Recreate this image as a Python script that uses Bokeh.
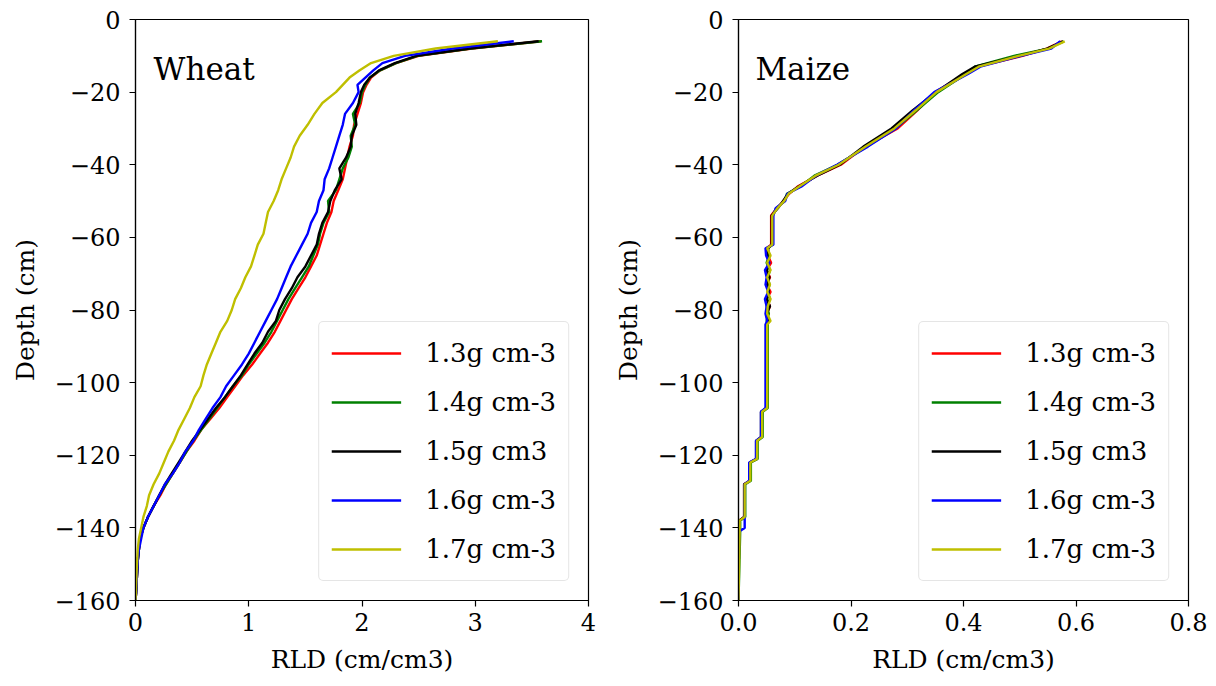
from bokeh.plotting import figure
from bokeh.layouts import row
from bokeh.models import Range1d, Label, FixedTicker, CustomJSTickFormatter
from bokeh.embed import file_html
from bokeh.resources import INLINE

FONT = "DejaVu Serif"

# ---------------- data ----------------
series_labels = ["1.3g cm-3", "1.4g cm-3", "1.5g cm3", "1.6g cm-3", "1.7g cm-3"]
series_colors = ["#ff0000", "#008000", "#000000", "#0000ff", "#bfbf00"]

depth_ticks = [0, -20, -40, -60, -80, -100, -120, -140, -160]
wheat_x_ticks = [0, 1, 2, 3, 4]
maize_x_ticks = [0.0, 0.2, 0.4, 0.6, 0.8]

wheat_depth = [-6, -8, -10, -12, -14, -16, -18, -20,
               -23, -26, -29, -32, -35, -38, -41, -44, -47, -50, -53, -56, -59,
               -62, -65, -68, -71, -74, -77, -80, -83, -86, -89, -92, -95, -98,
               -101, -104, -107, -110, -113, -116, -119, -122, -125, -128, -131,
               -134, -137, -140, -143, -146, -149, -152, -155, -158, -160]

wheat_13 = [3.58, 2.97, 2.50, 2.30, 2.16, 2.08, 2.04, 2.01,
            1.99, 1.96, 1.93, 1.92, 1.89, 1.87, 1.85, 1.83, 1.79, 1.75, 1.73, 1.69, 1.66,
            1.63, 1.60, 1.55, 1.50, 1.44, 1.38, 1.33, 1.28, 1.23, 1.17, 1.10, 1.03, 0.95,
            0.88, 0.81, 0.74, 0.66, 0.58, 0.52, 0.45, 0.39, 0.33, 0.27, 0.22,
            0.16, 0.11, 0.07, 0.04, 0.03, 0.02, 0.015, 0.01, 0.005, 0.0]
wheat_14 = [3.59, 2.96, 2.49, 2.30, 2.16, 2.07, 2.03, 2.00,
            1.98, 1.92, 1.94, 1.90, 1.91, 1.88, 1.83, 1.80, 1.77, 1.70, 1.71, 1.66, 1.63,
            1.61, 1.57, 1.53, 1.47, 1.41, 1.35, 1.30, 1.25, 1.20, 1.14, 1.07, 1.00, 0.94,
            0.86, 0.79, 0.72, 0.65, 0.58, 0.51, 0.45, 0.39, 0.33, 0.27, 0.21,
            0.16, 0.11, 0.07, 0.04, 0.03, 0.02, 0.015, 0.01, 0.005, 0.0]
wheat_15 = [3.56, 2.95, 2.48, 2.29, 2.15, 2.07, 2.02, 1.99,
            1.97, 1.94, 1.95, 1.91, 1.90, 1.86, 1.80, 1.82, 1.76, 1.72, 1.70, 1.65, 1.62,
            1.60, 1.55, 1.50, 1.43, 1.38, 1.32, 1.27, 1.24, 1.17, 1.12, 1.05, 0.99, 0.93,
            0.86, 0.79, 0.71, 0.64, 0.57, 0.50, 0.44, 0.38, 0.32, 0.26, 0.21,
            0.16, 0.11, 0.07, 0.04, 0.03, 0.02, 0.015, 0.01, 0.005, 0.0]
wheat_16 = [3.34, 2.80, 2.38, 2.18, 2.10, 2.03, 1.96, 1.97,
            1.92, 1.85, 1.83, 1.80, 1.77, 1.74, 1.71, 1.67, 1.66, 1.62, 1.60, 1.55, 1.52,
            1.47, 1.42, 1.37, 1.33, 1.29, 1.25, 1.20, 1.15, 1.10, 1.05, 1.00, 0.94, 0.87,
            0.80, 0.75, 0.68, 0.62, 0.56, 0.51, 0.44, 0.39, 0.33, 0.26, 0.21,
            0.16, 0.11, 0.07, 0.05, 0.03, 0.02, 0.015, 0.01, 0.005, 0.0]
wheat_17 = [3.20, 2.65, 2.28, 2.08, 1.98, 1.89, 1.83, 1.77,
            1.65, 1.58, 1.52, 1.45, 1.40, 1.37, 1.33, 1.29, 1.26, 1.22, 1.17, 1.15, 1.13,
            1.08, 1.05, 1.02, 0.97, 0.93, 0.88, 0.85, 0.81, 0.75, 0.71, 0.67, 0.63, 0.60,
            0.575, 0.52, 0.48, 0.43, 0.38, 0.34, 0.29, 0.25, 0.21, 0.16, 0.12,
            0.10, 0.07, 0.05, 0.03, 0.02, 0.015, 0.01, 0.007, 0.003, 0.0]

maize_depth = [-6, -8, -10, -13, -15, -20, -25, -30, -35, -40,
               -43, -46, -48, -50, -52, -54, -62, -63,
               -65, -67, -69, -71, -73, -75, -77, -79, -81, -83, -84,
               -107, -108, -115, -116, -121, -122, -127, -128,
               -137, -138, -140, -141, -160]

maize_13 = [0.575, 0.548, 0.505, 0.425, 0.402, 0.350, 0.318, 0.283, 0.225, 0.182,
            0.140, 0.105, 0.090, 0.080, 0.068, 0.058, 0.058, 0.050,
            0.052, 0.058, 0.050, 0.056, 0.050, 0.057, 0.050, 0.056, 0.050, 0.055, 0.050,
            0.050, 0.041, 0.041, 0.032, 0.032, 0.020, 0.020, 0.010,
            0.010, 0.001, 0.001, 0.001, 0.0]
maize_14 = [0.578, 0.550, 0.490, 0.420, 0.404, 0.355, 0.317, 0.279, 0.228, 0.176,
            0.135, 0.110, 0.086, 0.082, 0.067, 0.061, 0.061, 0.052,
            0.055, 0.050, 0.056, 0.052, 0.055, 0.052, 0.056, 0.050, 0.054, 0.050, 0.052,
            0.052, 0.043, 0.043, 0.034, 0.034, 0.022, 0.022, 0.012,
            0.012, 0.003, 0.003, 0.003, 0.0]
maize_15 = [0.577, 0.549, 0.500, 0.420, 0.398, 0.351, 0.310, 0.272, 0.222, 0.180,
            0.140, 0.107, 0.088, 0.079, 0.070, 0.059, 0.059, 0.053,
            0.051, 0.054, 0.050, 0.055, 0.051, 0.054, 0.050, 0.056, 0.050, 0.053, 0.050,
            0.050, 0.040, 0.040, 0.032, 0.032, 0.020, 0.020, 0.010,
            0.010, 0.001, 0.001, 0.001, 0.0]
maize_16 = [0.572, 0.556, 0.502, 0.430, 0.408, 0.348, 0.312, 0.280, 0.230, 0.175,
            0.138, 0.112, 0.087, 0.083, 0.066, 0.062, 0.062, 0.048,
            0.049, 0.055, 0.047, 0.050, 0.048, 0.053, 0.047, 0.050, 0.048, 0.051, 0.048,
            0.048, 0.040, 0.040, 0.031, 0.031, 0.019, 0.019, 0.011,
            0.011, 0.011, 0.011, 0.001, 0.0]
maize_17 = [0.580, 0.552, 0.498, 0.427, 0.405, 0.352, 0.315, 0.277, 0.226, 0.178,
            0.137, 0.108, 0.089, 0.081, 0.069, 0.060, 0.060, 0.051,
            0.057, 0.051, 0.057, 0.051, 0.056, 0.051, 0.057, 0.052, 0.051, 0.057, 0.051,
            0.051, 0.042, 0.042, 0.033, 0.033, 0.021, 0.021, 0.011,
            0.011, 0.002, 0.002, 0.002, 0.0]

wheat_series = [wheat_13, wheat_14, wheat_15, wheat_16, wheat_17]
maize_series = [maize_13, maize_14, maize_15, maize_16, maize_17]


def make_panel(title, depth, series, xmax, xticks, xfmt, width, left, right, title_x):
    p = figure(width=width, height=686,
               x_range=Range1d(0, xmax), y_range=Range1d(-160, 0),
               output_backend="svg", toolbar_location=None,
               min_border_left=left, min_border_right=right,
               min_border_top=19, min_border_bottom=86,
               background_fill_color="white", border_fill_color="white")
    p.grid.visible = False
    p.outline_line_color = "black"
    p.outline_line_width = 1.2
    p.outline_line_alpha = 1.0

    for vals, col, lab in zip(series, series_colors, series_labels):
        p.line(vals, depth, line_color=col, line_width=2.4, legend_label=lab)

    for ax in (p.xaxis[0], p.yaxis[0]):
        ax.axis_line_color = "black"
        ax.axis_line_width = 1.2
        ax.major_tick_line_color = "black"
        ax.major_tick_line_width = 1.2
        ax.major_tick_in = 0
        ax.major_tick_out = 6
        ax.minor_tick_line_color = None
        ax.major_label_text_font = FONT
        ax.major_label_text_font_size = "24px"
        ax.major_label_text_color = "black"
        ax.axis_label_text_font = FONT
        ax.axis_label_text_font_size = "25px"
        ax.axis_label_text_font_style = "normal"
        ax.axis_label_text_color = "black"

    p.xaxis.ticker = FixedTicker(ticks=xticks)
    p.xaxis.formatter = CustomJSTickFormatter(code=xfmt)
    p.xaxis.axis_label = "RLD (cm/cm3)"
    p.xaxis.major_label_standoff = 6
    p.xaxis.axis_label_standoff = 11

    p.yaxis.ticker = FixedTicker(ticks=depth_ticks)
    p.yaxis.formatter = CustomJSTickFormatter(
        code="return tick < 0 ? '\u2212' + Math.abs(tick) : String(tick);")
    p.yaxis.axis_label = "Depth (cm)"
    p.yaxis.major_label_standoff = 9
    p.yaxis.axis_label_standoff = 12

    p.add_layout(Label(x=title_x, y=-13.5, text=title, text_font=FONT,
                       text_font_size="31px", text_color="black",
                       text_baseline="alphabetic"))

    lg = p.legend[0]
    lg.location = "bottom_right"
    lg.margin = 19
    lg.padding = 12
    lg.spacing = 11
    lg.glyph_width = 70
    lg.glyph_height = 38
    lg.label_standoff = 24
    lg.label_text_font = FONT
    lg.label_text_font_size = "26px"
    lg.label_text_color = "black"
    lg.border_line_color = "#cccccc"
    lg.border_line_width = 1.2
    lg.background_fill_color = "white"
    lg.background_fill_alpha = 0.8
    try:
        lg.border_radius = 5
    except Exception:
        pass
    return p


p1 = make_panel("Wheat", wheat_depth, wheat_series, 4, wheat_x_ticks,
                "return String(tick);", 600, 135, 12, 0.16)
p2 = make_panel("Maize", maize_depth, maize_series, 0.8, maize_x_ticks,
                "return tick.toFixed(1);", 616, 138, 28, 0.03)

layout = row(p1, p2)
open("out.html", "w").write(file_html(layout, INLINE))
